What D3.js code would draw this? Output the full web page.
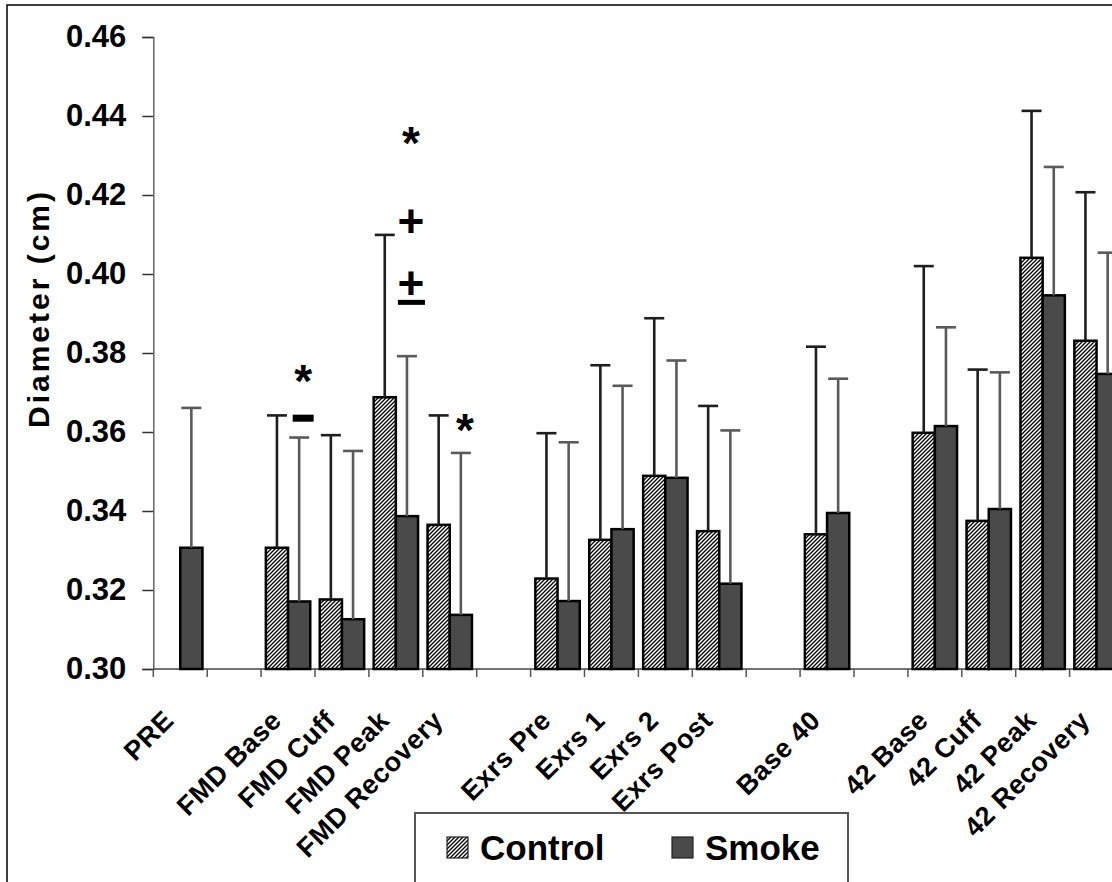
<!DOCTYPE html>
<html>
<head>
<meta charset="utf-8">
<script src="https://cdn.jsdelivr.net/npm/d3@7"></script>
<style>
  html, body { margin: 0; padding: 0; background: #fff; }
  svg { display: block; font-family: "Liberation Sans", Arial, sans-serif; font-weight: bold; }
</style>
</head>
<body>
<svg id="chart" width="1112" height="882"></svg>
<script>
// ---- Data ----
const categories = ["PRE", "", "FMD Base", "FMD Cuff", "FMD Peak", "FMD Recovery", "",
  "Exrs Pre", "Exrs 1", "Exrs 2", "Exrs Post", "", "Base 40", "",
  "42 Base", "42 Cuff", "42 Peak", "42 Recovery"];
const controlMean = [null, null, 0.3307, 0.3176, 0.3688, 0.3365, null,
  0.3229, 0.3327, 0.3489, 0.3349, null, 0.3341, null,
  0.3598, 0.3375, 0.4041, 0.3831];
const controlSD = [null, null, 0.0335, 0.0416, 0.0411, 0.0277, null,
  0.0368, 0.0442, 0.0399, 0.0317, null, 0.0475, null,
  0.0422, 0.0383, 0.0372, 0.0376];
const smokeMean = [0.3307, null, 0.3171, 0.3126, 0.3387, 0.3137, null,
  0.3172, 0.3354, 0.3484, 0.3216, null, 0.3395, null,
  0.3615, 0.3405, 0.3946, 0.3747];
const smokeSD = [0.0354, null, 0.0415, 0.0426, 0.0405, 0.0410, null,
  0.0402, 0.0363, 0.0297, 0.0388, null, 0.0340, null,
  0.0250, 0.0346, 0.0325, 0.0307];
const seriesNames = ["Control", "Smoke"];
const yTicks = [0.30, 0.32, 0.34, 0.36, 0.38, 0.40, 0.42, 0.44, 0.46];
// significance marks
const marks = [
  { cat: 2, series: "Smoke", symbol: "*", value: 0.3735 },
  { cat: 4, series: "Smoke", symbol: "*", value: 0.4336 },
  { cat: 4, series: "Smoke", symbol: "+", value: 0.4131 },
  { cat: 4, series: "Smoke", symbol: "±", value: 0.3970 },
  { cat: 5, series: "Smoke", symbol: "*", value: 0.3610 }
];
const dashMarks = [ { cat: 2, series: "Smoke", value: 0.3635 } ];

// ---- Scales ----
const svg = d3.select("#chart");
const idx = d3.range(categories.length);
const x = d3.scaleBand().domain(idx).range([153.3, 153.3 + 18 * 53.9]).paddingInner(0).paddingOuter(0);
const xs = d3.scaleBand().domain(seriesNames).range([0, x.bandwidth()]).paddingInner(0).paddingOuter(0.214);
const y = d3.scaleLinear().domain([0.30, 0.46]).range([669, 37]);

svg.append("rect").attr("width", 1112).attr("height", 882).attr("fill", "#fff");

// hatch pattern
const defs = svg.append("defs");
const pat = defs.append("pattern").attr("id", "hatch").attr("patternUnits", "userSpaceOnUse")
  .attr("width", 4).attr("height", 4);
pat.append("rect").attr("width", 4).attr("height", 4).attr("fill", "#fff");
pat.append("path").attr("d", "M-1,1 l2,-2 M0,4 l4,-4 M3,5 l2,-2")
  .attr("stroke", "#000").attr("stroke-width", 1.3);

// outer frame
svg.append("rect").attr("x", 7).attr("y", 5).attr("width", 1300).attr("height", 1000)
  .attr("fill", "none").attr("stroke", "#000").attr("stroke-width", 1.5);

// ---- Axes ----
const yAxis = d3.axisLeft(y).tickValues(yTicks).tickFormat(d3.format(".2f")).tickSize(11).tickPadding(16);
const gy = svg.append("g").attr("transform", "translate(153.3,0)").call(yAxis);
gy.select(".domain").attr("stroke", "#666").attr("stroke-width", 1.5);
gy.selectAll(".tick line").attr("stroke", "#333").attr("stroke-width", 1.5);
gy.selectAll(".tick text").attr("font-size", 31).attr("font-weight", "bold")
  .attr("font-family", "Liberation Sans, Arial, sans-serif").attr("fill", "#000");

const gx = svg.append("g");
gx.append("line").attr("x1", x.range()[0]).attr("x2", x.range()[1])
  .attr("y1", y(0.30)).attr("y2", y(0.30)).attr("stroke", "#444").attr("stroke-width", 1.5);
gx.selectAll("line.tk").data(idx).join("line").attr("class", "tk")
  .attr("x1", d => x(d)).attr("x2", d => x(d))
  .attr("y1", y(0.30)).attr("y2", y(0.30) + 8).attr("stroke", "#555").attr("stroke-width", 1.5);
gx.selectAll("text.lbl").data(idx.filter(i => categories[i] !== "")).join("text").attr("class", "lbl")
  .attr("transform", d => `translate(${x(d) + x.bandwidth() / 2 - 5},722) rotate(-45)`)
  .attr("text-anchor", "end").attr("font-size", 27).attr("letter-spacing", 0.5).attr("fill", "#000")
  .text(d => categories[d]);

// y title
svg.append("text").attr("transform", `translate(49,310) rotate(-90)`)
  .attr("text-anchor", "middle").attr("font-size", 30)
  .attr("textLength", 236).attr("lengthAdjust", "spacing")
  .attr("fill", "#000").text("Diameter (cm)");

// ---- Bars ----
const rows = [];
idx.forEach(i => {
  if (controlMean[i] != null) rows.push({ i, s: "Control", v: controlMean[i], sd: controlSD[i] });
  if (smokeMean[i] != null) rows.push({ i, s: "Smoke", v: smokeMean[i], sd: smokeSD[i] });
});
svg.append("g").selectAll("rect").data(rows).join("rect")
  .attr("x", d => x(d.i) + xs(d.s)).attr("width", xs.bandwidth())
  .attr("y", d => y(d.v)).attr("height", d => y(0.30) - y(d.v))
  .attr("fill", d => d.s === "Control" ? "url(#hatch)" : "#4a4a4a")
  .attr("stroke", "#000").attr("stroke-width", 2.5);

const eb = svg.append("g");
rows.forEach(d => {
  const cx = x(d.i) + xs(d.s) + xs.bandwidth() / 2;
  const col = d.s === "Control" ? "#1e1e1e" : "#5a5a5a";
  eb.append("line").attr("x1", cx).attr("x2", cx).attr("y1", y(d.v)).attr("y2", y(d.v + d.sd))
    .attr("stroke", col).attr("stroke-width", 2.6);
  eb.append("line").attr("x1", cx - 10).attr("x2", cx + 10).attr("y1", y(d.v + d.sd)).attr("y2", y(d.v + d.sd))
    .attr("stroke", col).attr("stroke-width", 2.6);
});

// ---- Significance marks ----
const mk = svg.append("g");
marks.forEach(m => {
  const cx = x(m.cat) + xs(m.series) + xs.bandwidth() / 2 + 4;
  if (m.symbol === "*") {
    mk.append("text").attr("x", cx).attr("y", y(m.value) + 18).attr("text-anchor", "middle")
      .attr("font-size", 46).attr("fill", "#000").text("*");
  } else if (m.symbol === "+") {
    mk.append("text").attr("x", cx).attr("y", y(m.value) + 15).attr("text-anchor", "middle")
      .attr("font-size", 46).attr("fill", "#000").text("+");
  } else {
    mk.append("text").attr("x", cx).attr("y", y(m.value) + 13).attr("text-anchor", "middle")
      .attr("font-size", 46).attr("fill", "#000").text("+");
    mk.append("rect").attr("x", cx - 13).attr("y", y(m.value) + 14).attr("width", 27).attr("height", 5).attr("fill", "#000");
  }
});
dashMarks.forEach(m => {
  const cx = x(m.cat) + xs(m.series) + xs.bandwidth() / 2 + 4;
  mk.append("rect").attr("x", cx - 10.5).attr("y", y(m.value) - 3.5).attr("width", 21).attr("height", 7).attr("fill", "#000");
});

// ---- Legend ----
const lg = svg.append("g");
lg.append("rect").attr("x", 415).attr("y", 813).attr("width", 433).attr("height", 120)
  .attr("fill", "#fff").attr("stroke", "#555").attr("stroke-width", 2);
const legendItems = [
  { name: seriesNames[0], fill: "url(#hatch)", sx: 447, tx: 480 },
  { name: seriesNames[1], fill: "#4a4a4a", sx: 672, tx: 705 }
];
legendItems.forEach(it => {
  lg.append("rect").attr("x", it.sx).attr("y", 837).attr("width", 21).attr("height", 21)
    .attr("fill", it.fill).attr("stroke", "#222").attr("stroke-width", 1.2);
  lg.append("text").attr("x", it.tx).attr("y", 860).attr("font-size", 35).attr("fill", "#000").text(it.name);
});
</script>
</body>
</html>
